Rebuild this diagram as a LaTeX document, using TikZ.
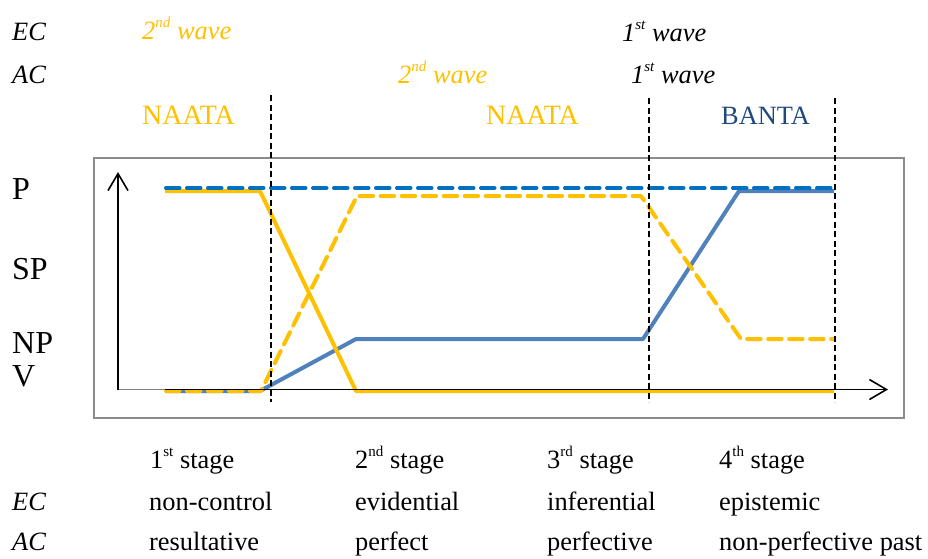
\documentclass[tikz,border=0pt]{standalone}
\usepackage{fontspec}
\setmainfont{Liberation Serif}
\usetikzlibrary{arrows.meta}
\definecolor{cyel}{HTML}{FFC000}
\definecolor{cblu}{HTML}{0070C0}
\definecolor{cbls}{HTML}{4F81BD}
\definecolor{cban}{HTML}{1F497D}
\newcommand{\mysup}[1]{\raisebox{0.42em}{\fontsize{15}{15}\selectfont #1}}
\tikzset{
  txt/.style={anchor=base west, inner sep=0pt, font=\fontsize{26.4}{30}\selectfont},
  ital/.style={txt, font=\fontsize{26.4}{30}\selectfont\itshape},
  naata/.style={anchor=base west, inner sep=0pt, font=\fontsize{28}{30}\selectfont},
  big/.style={anchor=base west, inner sep=0pt, font=\fontsize{32}{36}\selectfont},
  plot/.style={line width=4pt, line join=round},
  dsh/.style={plot, line cap=round, dash pattern=on 13.5pt off 7.5pt},
  vdash/.style={line width=1.5pt, dash pattern=on 6pt off 3.5pt},
  axis/.style={line width=1.6pt, -{Straight Barb[length=17pt,width=20pt,line width=1.6pt]}}
}
\begin{document}
\begin{tikzpicture}[x=1pt,y=-1pt]
\useasboundingbox (0,0) rectangle (928,558);
% top labels
\node[ital] (ec1) at (12,40) {EC};
\node[ital,text=cyel] (ecw2) at (142,39) {2\mysup{nd} wave};
\node[ital] (ecw1) at (622,41) {1\mysup{st} wave};
\node[ital] (ac1) at (12,83) {AC};
\node[ital,text=cyel] (acw2) at (398,83) {2\mysup{nd} wave};
\node[ital] (acw1) at (631,83) {1\mysup{st} wave};
\node[naata,text=cyel] (na1) at (142,124) {NAATA};
\node[naata,text=cyel] (na2) at (486,124) {NAATA};
\node[txt,text=cban] (ba) at (721,124) {BANTA};
% box
\draw[line width=1.5pt, draw=gray!90] (94,158) rectangle (904,418);
% left labels
\node[big] (lp) at (12,199) {P};
\node[big] (lsp) at (12,279) {SP};
\node[big] (lnp) at (12,353) {NP};
\node[big] (lv) at (12,386) {V};
% plotted lines
\draw[plot,cbls] (165,391) -- (260,391) -- (356,339) -- (643,339) -- (739,191) -- (834,191);
\draw[plot,cyel] (165,191) -- (260,191) -- (356,391) -- (834,391);
\draw[dsh,cyel] (166,391) -- (261,391) -- (357,196) -- (641,196) -- (741,339) -- (834,339);
\draw[dsh,cblu] (166,188) -- (834,188);
% axes
\draw[line width=1.5pt, gray] (118,389.5) -- (165,389.5);
\draw[axis] (118,390) -- (118,172);
\draw[axis] (165,389.5) -- (888,389.5);
% vertical dashed lines
\draw[vdash] (271,95) -- (271,402);
\draw[vdash] (649,98) -- (649,402);
\draw[vdash] (835,98) -- (835,402);
% bottom labels
\node[txt] (s1) at (150,468) {1\mysup{st} stage};
\node[txt] (s2) at (355,468) {2\mysup{nd} stage};
\node[txt] (s3) at (547,468) {3\mysup{rd} stage};
\node[txt] (s4) at (719,468) {4\mysup{th} stage};
\node[ital] (ec2) at (12,510) {EC};
\node[txt] (e1) at (149,510) {non-control};
\node[txt] (e2) at (355,510) {evidential};
\node[txt] (e3) at (547,510) {inferential};
\node[txt] (e4) at (719,510) {epistemic};
\node[ital] (ac2) at (12,550) {AC};
\node[txt] (a1) at (149,550) {resultative};
\node[txt] (a2) at (355,550) {perfect};
\node[txt] (a3) at (547,550) {perfective};
\node[txt] (a4) at (719,550) {non-perfective past};
\end{tikzpicture}
\end{document}
